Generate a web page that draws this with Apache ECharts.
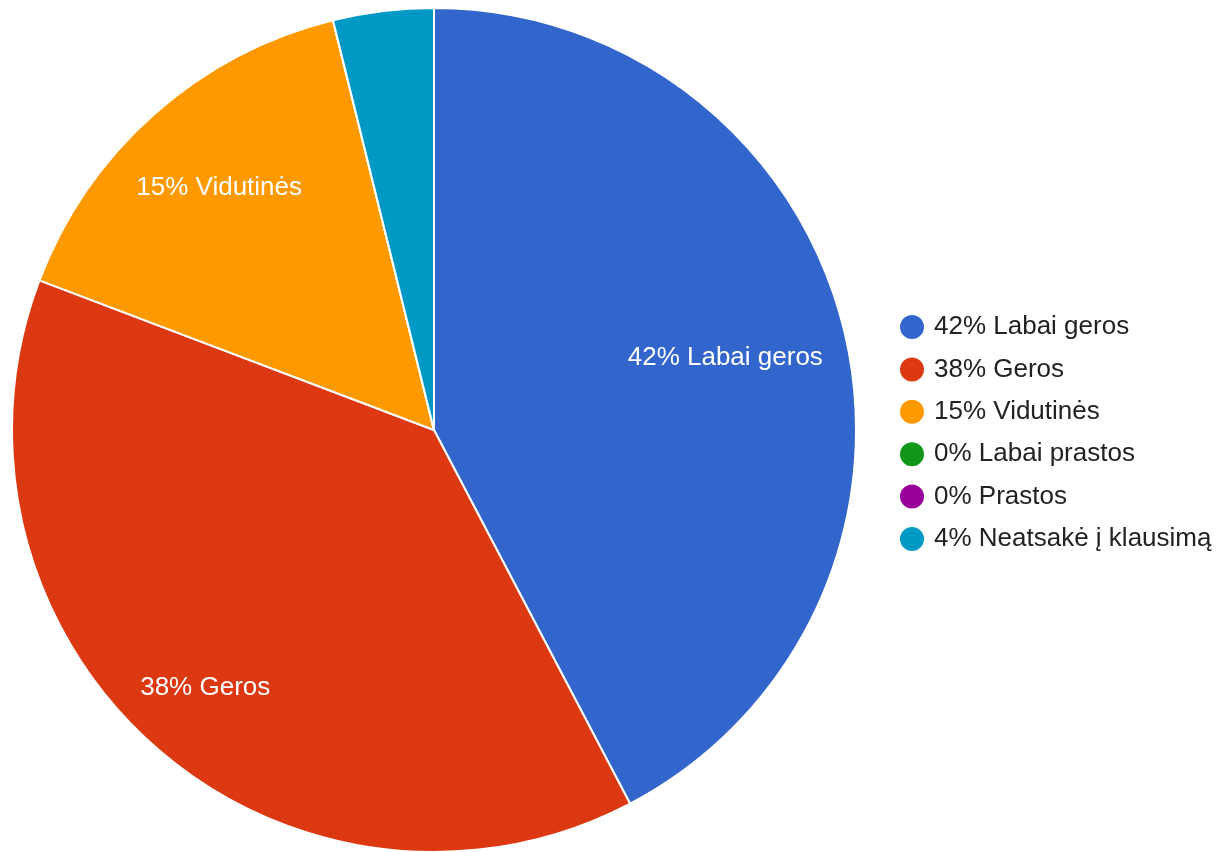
<!DOCTYPE html>
<html>
<head>
<meta charset="utf-8">
<script src="https://cdn.jsdelivr.net/npm/echarts@6/dist/echarts.min.js"></script>
<style>html,body{margin:0;padding:0;background:#fff}#c{width:1220px;height:852px}</style>
</head>
<body>
<div id="c"></div>
<script>
const categories = ['Labai geros', 'Geros', 'Vidutinės', 'Labai prastos', 'Prastos', 'Neatsakė į klausimą'];
const counts = [11, 10, 4, 0, 0, 1];
const percentLabels = [42, 38, 15, 0, 0, 4];
const colors = ['#3366cc', '#dc3912', '#ff9900', '#109618', '#990099', '#0099c6'];

const FONT = 'Arial, "Liberation Sans", sans-serif';
const CENTER = [434, 430];
const pctOf = name => percentLabels[categories.indexOf(name)];
const data = categories.map((n, i) => ({ name: n, value: counts[i], itemStyle: { color: colors[i] } }));

// label ring radius (px from centre) for each labelled slice, to mimic in-slice label placement
const labelRing = { 0: 297, 1: 342, 2: 321 };

const labelSeries = Object.keys(labelRing).map(k => {
  const idx = +k, mid = labelRing[k];
  return {
    type: 'pie',
    center: CENTER,
    radius: [mid - 50, mid + 50],
    startAngle: 90,
    clockwise: true,
    silent: true,
    itemStyle: { color: 'rgba(0,0,0,0)', borderWidth: 0 },
    label: {
      show: true,
      position: 'inside',
      color: '#fff',
      fontFamily: FONT,
      fontSize: 26,
      formatter: p => (p.dataIndex === idx ? pctOf(p.name) + '% ' + p.name : '')
    },
    labelLine: { show: false },
    data: categories.map((n, i) => ({ name: n, value: counts[i] }))
  };
});

const chart = echarts.init(document.getElementById('c'), null, { renderer: 'canvas' });
chart.setOption({
  animation: false,
  backgroundColor: '#fff',
  legend: {
    orient: 'vertical',
    left: 898,
    top: 313,
    padding: 0,
    icon: 'circle',
    itemWidth: 26,
    itemHeight: 26,
    itemGap: 14.4,
    data: categories,
    formatter: name => pctOf(name) + '% ' + name,
    textStyle: { fontFamily: FONT, fontSize: 26, color: '#222', padding: [0, 0, 0, 4] },
    selectedMode: false
  },
  series: [
    {
      type: 'pie',
      center: CENTER,
      radius: [0, 422],
      startAngle: 90,
      clockwise: true,
      silent: true,
      label: { show: false },
      labelLine: { show: false },
      itemStyle: { borderColor: '#fff', borderWidth: 2 },
      data: data
    }
  ].concat(labelSeries)
});
</script>
</body>
</html>
